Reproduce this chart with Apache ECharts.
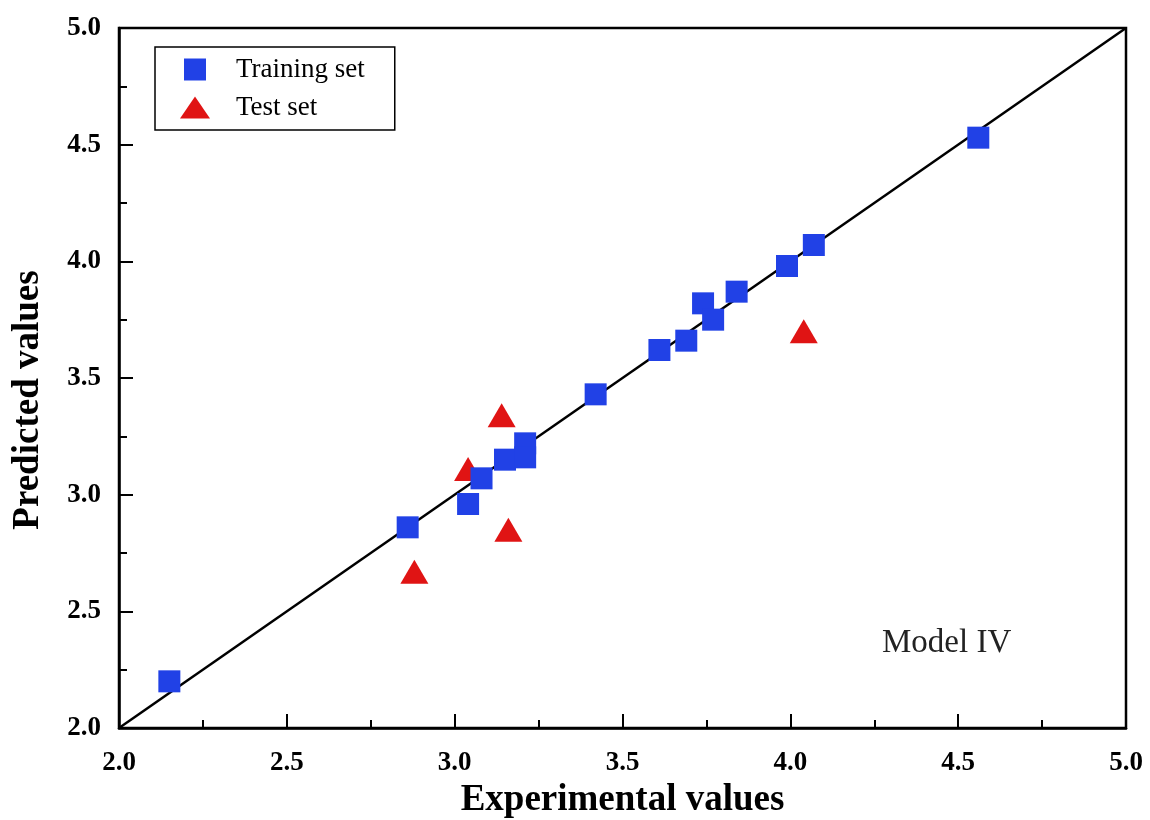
<!DOCTYPE html>
<html>
<head>
<meta charset="utf-8">
<script src="https://cdn.jsdelivr.net/npm/echarts@6/dist/echarts.min.js"></script>
<style>html,body{margin:0;padding:0;background:#fff}#c{width:1150px;height:820px}</style>
</head>
<body>
<div id="c"></div>
<script>
const trainingX = [2.15, 2.86, 3.04, 3.08, 3.15, 3.21, 3.21, 3.42, 3.61, 3.69, 3.74, 3.77, 3.84, 3.99, 4.07, 4.56];
const trainingY = [2.20, 2.86, 2.96, 3.07, 3.15, 3.22, 3.16, 3.43, 3.62, 3.66, 3.82, 3.75, 3.87, 3.98, 4.07, 4.53];
const testX = [2.88, 3.04, 3.14, 3.16, 4.04];
const testY = [2.67, 3.11, 3.34, 2.85, 3.70];
const diagonal = [[2, 2], [5, 5]];
const modelLabel = 'Model IV';

const font = 'Liberation Serif';
const chart = echarts.init(document.getElementById('c'));
const axisCommon = {
  min: 2, max: 5, interval: 0.5,
  axisLine: {lineStyle: {color: '#000', width: 2.5}},
  axisTick: {inside: true, length: 14, lineStyle: {color: '#000', width: 2}},
  minorTick: {show: true, splitNumber: 2, length: 8, lineStyle: {color: '#000', width: 2}},
  splitLine: {show: false},
  axisLabel: {color: '#000', fontFamily: font, fontWeight: 'bold', fontSize: 27, formatter: v => v.toFixed(1)},
  nameLocation: 'middle',
  nameTextStyle: {color: '#000', fontFamily: font, fontWeight: 'bold', fontSize: 37}
};
chart.setOption({
  animation: false,
  backgroundColor: '#fff',
  grid: {left: 119, right: 24, top: 28, bottom: 92, outerBoundsMode: 'none', containLabel: false,
    show: true, borderColor: '#000', borderWidth: 2.5},
  xAxis: Object.assign({}, axisCommon, {type: 'value', name: 'Experimental values', nameGap: 41,
    axisLabel: Object.assign({}, axisCommon.axisLabel, {margin: 22})}),
  yAxis: Object.assign({}, axisCommon, {type: 'value', name: 'Predicted values', nameGap: 72,
    nameTextStyle: Object.assign({}, axisCommon.nameTextStyle, {padding: [0, 44, 0, 0]}),
    axisLabel: Object.assign({}, axisCommon.axisLabel, {margin: 18})}),
  legend: {
    orient: 'vertical', left: 155, top: 47,
    borderColor: '#000', borderWidth: 1.5, borderRadius: 0,
    padding: [9, 30, 9, 25], itemGap: 11, itemWidth: 30, itemHeight: 22,
    symbolKeepAspect: true,
    textStyle: {fontFamily: font, fontSize: 27, color: '#000', padding: [0, 0, 0, 21]},
    data: [
      {name: 'Training set', icon: 'path://M0,0L10,0L10,10L0,10Z'},
      {name: 'Test set', icon: 'triangle'}
    ]
  },
  graphic: [{type: 'text', left: 882, top: 627,
    style: {text: modelLabel, fontFamily: font, fontSize: 33, fill: '#222'}}],
  series: [
    {type: 'line', data: diagonal, symbol: 'none', lineStyle: {color: '#000', width: 2.5}, silent: true, z: 1},
    {name: 'Training set', type: 'scatter', symbol: 'rect', symbolSize: 22,
      itemStyle: {color: '#2141e6', opacity: 1},
      data: trainingX.map((x, i) => [x, trainingY[i]]), z: 3},
    {name: 'Test set', type: 'scatter', symbol: 'triangle', symbolSize: [28, 24],
      itemStyle: {color: '#e01414', opacity: 1},
      data: testX.map((x, i) => [x, testY[i]]), z: 2}
  ]
});
</script>
</body>
</html>
